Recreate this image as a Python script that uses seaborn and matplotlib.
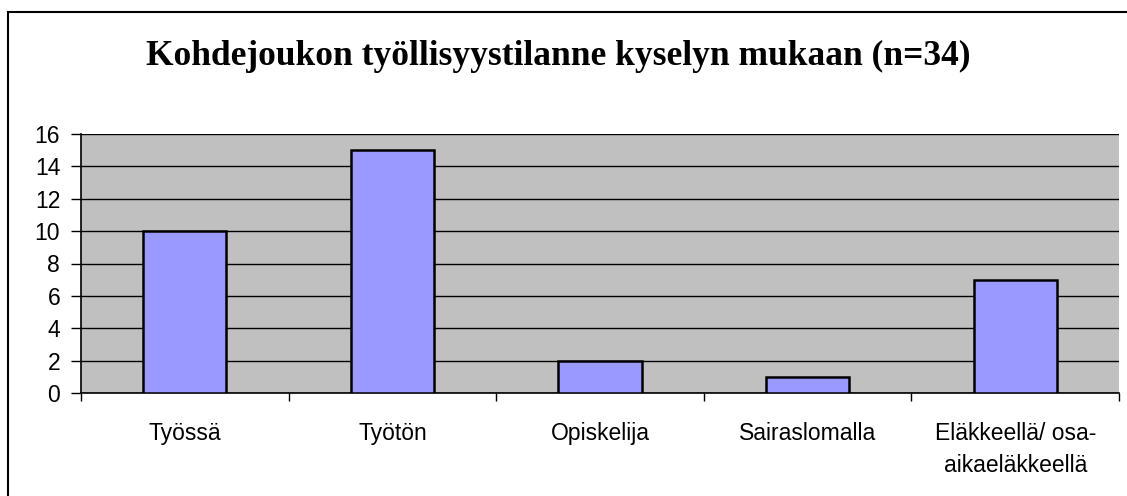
import matplotlib
matplotlib.use("Agg")
import matplotlib.pyplot as plt
import seaborn as sns
import pandas as pd
from matplotlib.patches import Rectangle
from matplotlib.ticker import FixedLocator

# Chart data
categories = ["Työssä", "Työtön", "Opiskelija", "Sairaslomalla", "Eläkkeellä/ osa-\naikaeläkkeellä"]
counts = [10, 15, 2, 1, 7]
y_ticks = [0, 2, 4, 6, 8, 10, 12, 14, 16]

df = pd.DataFrame({"Tilanne": categories, "Lukumäärä": counts})

sns.set_style("white")
plt.rcParams["font.family"] = ["Liberation Sans", "DejaVu Sans"]
plt.rcParams["text.color"] = "black"
plt.rcParams["xtick.color"] = "black"
plt.rcParams["ytick.color"] = "black"

fig = plt.figure(figsize=(11.27, 4.96), dpi=100)
ax = fig.add_axes([81 / 1127, 1 - 393 / 496, (1119 - 81) / 1127, (393 - 134) / 496])

# outer chart border
fig.patches.append(Rectangle((8 / 1127, -0.1), 1.2, 1 - 12 / 496 + 0.1,
                             transform=fig.transFigure, fill=False,
                             edgecolor="black", linewidth=1.5, zorder=0))

ax.set_facecolor("#C0C0C0")
sns.barplot(data=df, x="Tilanne", y="Lukumäärä", color="#9999FF",
            saturation=1, width=0.4, edgecolor="black", linewidth=1.8, ax=ax, zorder=3)

ax.set_ylim(0, 16)
ax.set_xlim(-0.5, 4.5)
ax.set_yticks(y_ticks)
ax.yaxis.grid(True, color="black", linewidth=1, zorder=0)
ax.set_axisbelow(True)
ax.set_xlabel("")
ax.set_ylabel("")

for side in ["top", "right"]:
    ax.spines[side].set_visible(False)
for side in ["left", "bottom"]:
    ax.spines[side].set_color("black")
    ax.spines[side].set_linewidth(1.2)

ax.tick_params(axis="y", which="major", direction="out", length=7, width=1,
               labelsize=16.5, labelcolor="black", pad=8, left=True)
ax.tick_params(axis="x", which="major", length=0, labelsize=16.5, labelcolor="black", pad=21)
ax.xaxis.set_minor_locator(FixedLocator([-0.5, 0.5, 1.5, 2.5, 3.5, 4.5]))
ax.tick_params(axis="x", which="minor", direction="out", length=6, width=1, bottom=True)
for lbl in ax.get_xticklabels():
    lbl.set_linespacing(1.5)

fig.text(0.495, 1 - 56 / 496, "Kohdejoukon työllisyystilanne kyselyn mukaan (n=34)",
         ha="center", va="center", fontsize=25.5, fontweight="bold", color="black",
         family=["Liberation Serif", "DejaVu Serif"])

fig.savefig("out.png", dpi=100, facecolor="white")
